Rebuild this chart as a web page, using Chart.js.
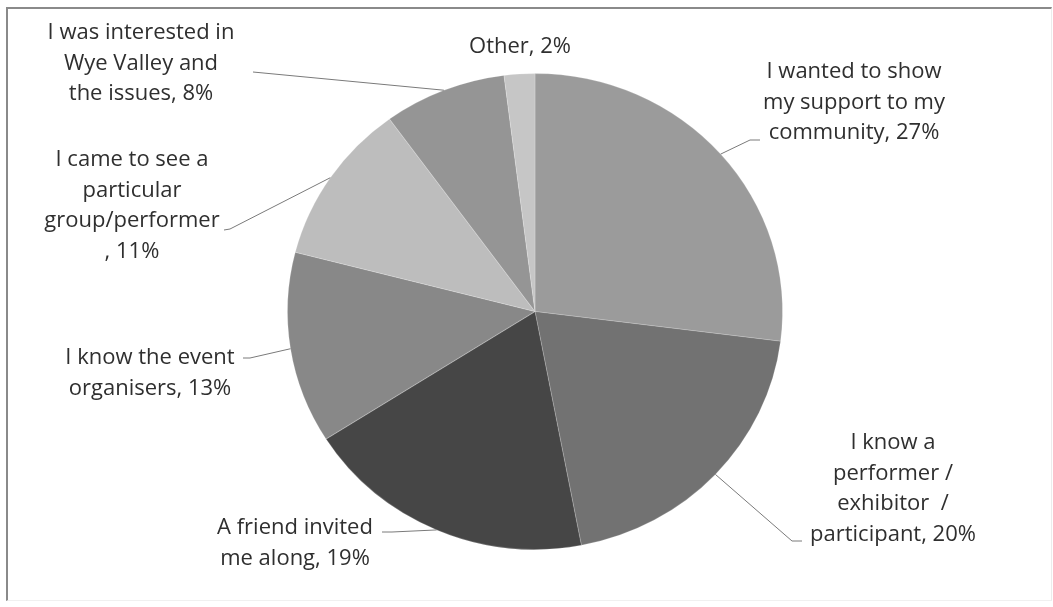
<!DOCTYPE html>
<html>
<head>
<meta charset="utf-8">
<script src="https://cdn.jsdelivr.net/npm/chart.js@4"></script>
<style>
  body { margin: 0; background: #fff; }
  #wrap { position: relative; width: 1053px; height: 607px; }
  #frame {
    position: absolute; left: 6px; top: 7px; width: 1043px; height: 591px;
    border-top: 2px solid #8a8a8a; border-left: 2px solid #8a8a8a;
    border-right: 1px solid #ececec; border-bottom: 1px solid #f0f0f0;
  }
  canvas { position: absolute; left: 0; top: 0; }
</style>
</head>
<body>
<div id="wrap">
  <div id="frame"></div>
  <canvas id="myChart" width="1053" height="607"></canvas>
</div>
<script>
// slices, clockwise from 12 o'clock
var categories = [
    ['I wanted to show', 'my support to my', 'community'],
    ['I know a', 'performer /', 'exhibitor  /', 'participant'],
    ['A friend invited', 'me along'],
    ['I know the event', 'organisers'],
    ['I came to see a', 'particular', 'group/performer', ''],
    ['I was interested in', 'Wye Valley and', 'the issues'],
    ['Other']
];
var percents = [27, 20, 19, 13, 11, 8, 2];
var greys = ['#9b9b9b', '#727272', '#464646', '#888888', '#bdbdbd', '#959595', '#c6c6c6'];

// where each label sits (centre x, first line y) and its leader line bends
var labelLayout = [
    { x: 854, y: 72,  leader: [[750, 140], [760, 140]] },
    { x: 893, y: 443, leader: [[792, 541], [802, 541]] },
    { x: 295, y: 528, leader: [[392, 532], [382, 532]] },
    { x: 150, y: 358, leader: [[250, 358], [243, 358]] },
    { x: 132, y: 160, leader: [[230, 229], [224, 230]] },
    { x: 141, y: 33,  leader: [[253, 72]] },
    { x: 520, y: 47,  leader: null }
];

// the original pie is a little wider than tall
var stretchX = 1.04;

function labelLines(i) {
    var lines = categories[i].slice();
    var last = lines.length - 1;
    lines[last] = lines[last] + ', ' + percents[i] + '%';
    return lines;
}

var pieLabels = {
    id: 'pieLabels',
    beforeDatasetsDraw: function(chart) {
        var arc = chart.getDatasetMeta(0).data[0];
        var c = chart.ctx;
        c.save();
        c.translate(arc.x, arc.y);
        c.scale(stretchX, 1);
        c.translate(-arc.x, -arc.y);
    },
    afterDatasetsDraw: function(chart) {
        chart.ctx.restore();
    },
    afterDraw: function(chart) {
        var c = chart.ctx;
        var arcs = chart.getDatasetMeta(0).data;
        c.save();
        arcs.forEach(function(arc, i) {
            var lay = labelLayout[i];
            if (lay.leader) {
                var mid = (arc.startAngle + arc.endAngle) / 2;
                c.beginPath();
                c.moveTo(arc.x + Math.cos(mid) * arc.outerRadius * stretchX, arc.y + Math.sin(mid) * arc.outerRadius);
                lay.leader.forEach(function(p) { c.lineTo(p[0], p[1]); });
                c.strokeStyle = '#7a7a7a';
                c.lineWidth = 1;
                c.stroke();
            }
            c.font = '22px "Open Sans"';
            c.fillStyle = '#2f2f2f';
            c.textAlign = 'center';
            c.textBaseline = 'middle';
            labelLines(i).forEach(function(t, k) {
                c.fillText(t, lay.x, lay.y + k * 30.5);
            });
        });
        c.restore();
    }
};

var ctx = document.getElementById('myChart').getContext('2d');
var myChart = new Chart(ctx, {
    type: 'pie',
    data: {
        labels: categories.map(function(l) { return l.join(' '); }),
        datasets: [{
            data: percents,
            backgroundColor: greys,
            borderColor: 'rgba(255, 255, 255, 0.2)',
            borderWidth: 1
        }]
    },
    options: {
        responsive: false,
        animation: false,
        layout: {
            padding: { left: 250, right: 233, top: 73, bottom: 57 }
        },
        plugins: {
            legend: { display: false },
            tooltip: { enabled: false }
        }
    },
    plugins: [pieLabels]
});
</script>
</body>
</html>
